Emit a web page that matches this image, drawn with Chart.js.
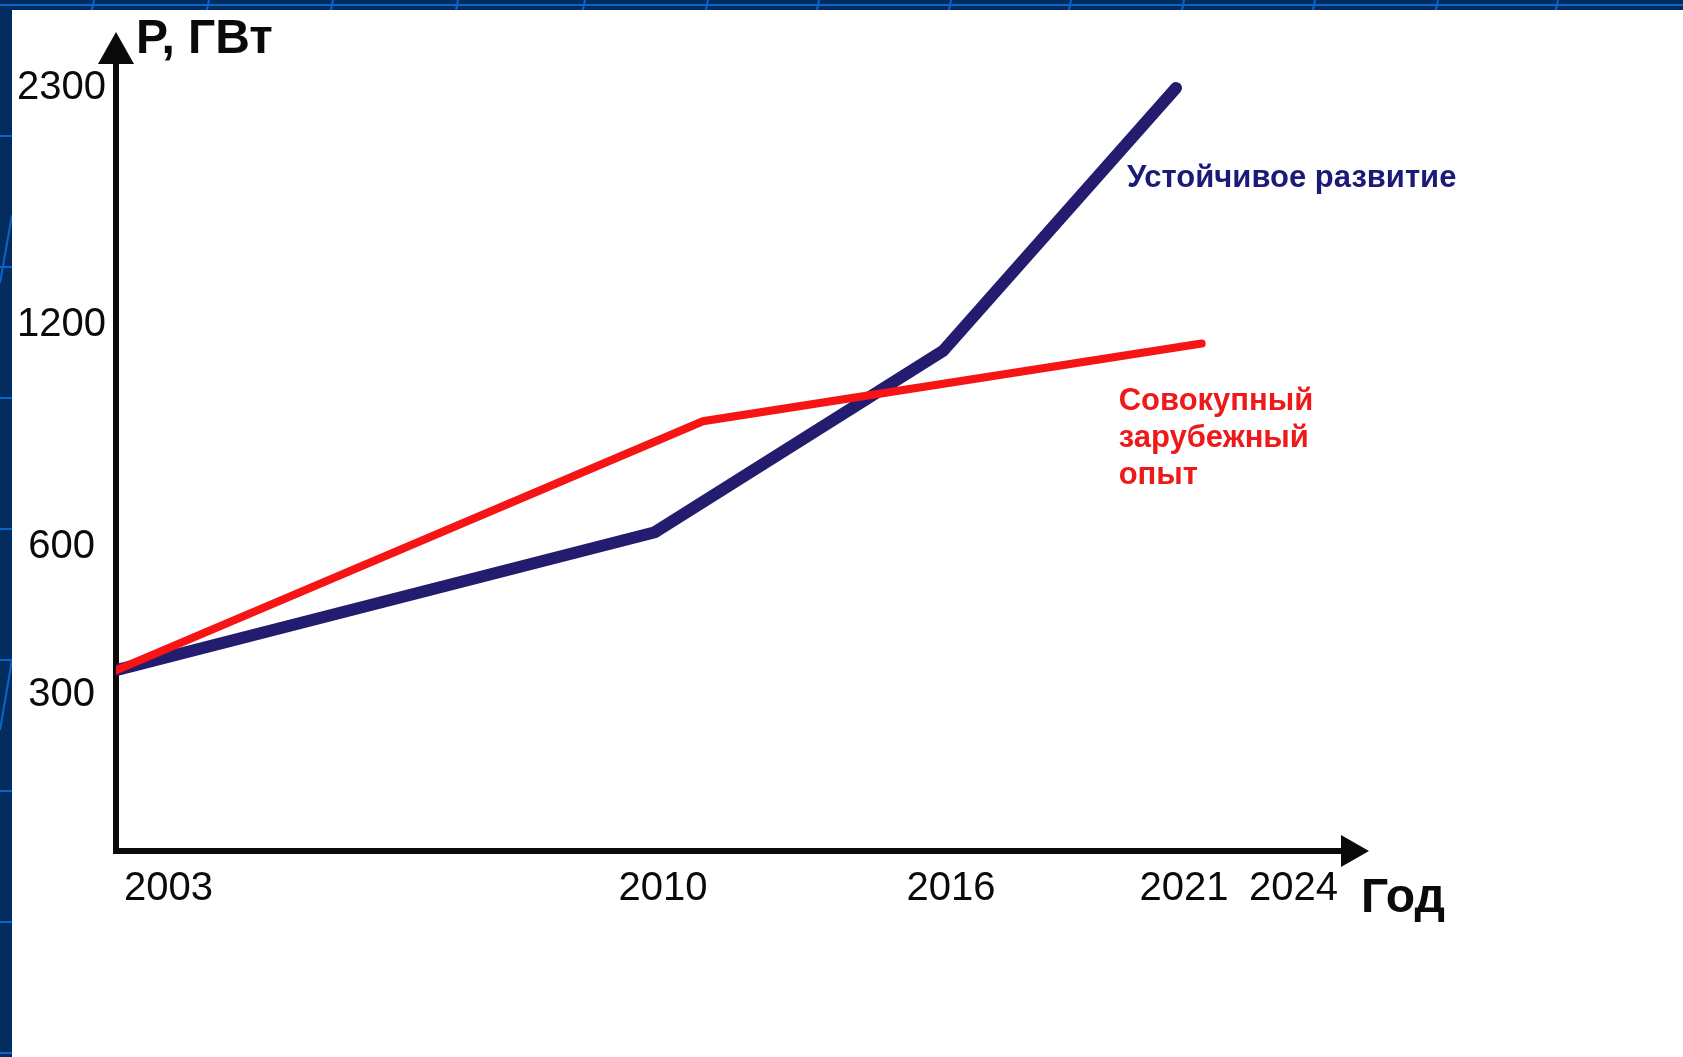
<!DOCTYPE html>
<html>
<head>
<meta charset="utf-8">
<script src="https://cdn.jsdelivr.net/npm/chart.js"></script>
<style>
html,body{margin:0;padding:0;background:#012c5c;overflow:hidden}
canvas{display:block}
</style>
</head>
<body>
<canvas id="c" width="1683" height="1057"></canvas>
<script>
// ---------------- data ----------------
const yearTicks = [2003, 2010, 2016, 2021, 2024];
const powerTicks = [300, 600, 1200, 2300];

const sustainableYears = [2003, 2010, 2016, 2021];
const sustainableGW    = [350, 640, 1130, 2300];

const foreignYears = [2003, 2011, 2021.5];
const foreignGW    = [350, 940, 1150];

const sustainableLabel = 'Устойчивое развитие';
const foreignLabel = ['Совокупный', 'зарубежный', 'опыт'];
const yAxisTitle = 'Р, ГВт';
const xAxisTitle = 'Год';

// -------- hand-drawn (non-uniform) axis layout: value -> fraction of axis --------
const AXIS_LAYOUT = {
  x: { ticks: yearTicks, stops: [[2003, 0], [2010, 0.4396], [2016, 0.6746], [2021, 0.8646], [2024, 0.9902], [2025, 1]] },
  y: { ticks: powerTicks, stops: [[0, 0], [300, 0.198], [600, 0.3858], [1200, 0.6675], [2300, 0.9683], [2400, 1]] }
};

function seg(stops, v, vi, fi) {
  for (let i = 1; i < stops.length; i++) {
    const a = stops[i - 1], b = stops[i];
    if (v <= b[vi] || i === stops.length - 1) {
      return a[fi] + (v - a[vi]) * (b[fi] - a[fi]) / (b[vi] - a[vi]);
    }
  }
}

class PiecewiseScale extends Chart.LinearScale {
  buildTicks() {
    return AXIS_LAYOUT[this.id].ticks.map(v => ({ value: v }));
  }
  getPixelForValue(value) {
    return this.getPixelForDecimal(seg(AXIS_LAYOUT[this.id].stops, value, 0, 1));
  }
  getValueForPixel(pixel) {
    return seg(AXIS_LAYOUT[this.id].stops, this.getDecimalForPixel(pixel), 1, 0);
  }
}
PiecewiseScale.id = 'piecewise';
PiecewiseScale.defaults = {};
Chart.register(PiecewiseScale);

// ---------------- slide background ----------------
const slideBg = {
  id: 'slideBg',
  beforeDraw(chart) {
    const ctx = chart.ctx, W = chart.width, H = chart.height;
    ctx.save();
    ctx.fillStyle = '#022d5e';
    ctx.fillRect(0, 0, W, H);
    ctx.strokeStyle = '#0c63cc';
    ctx.lineWidth = 2;
    ctx.beginPath();
    ctx.moveTo(0, 5); ctx.lineTo(W, 5);
    [94, 209, 333, 458, 585, 708, 819, 951, 1071, 1184, 1315, 1438, 1558].forEach(x => {
      ctx.moveTo(x, 0); ctx.lineTo(x - 2, 10);
    });
    for (let y = 136; y < H; y += 131) { ctx.moveTo(0, y); ctx.lineTo(12, y); }
    ctx.moveTo(0, 283); ctx.lineTo(12, 215);
    ctx.moveTo(0, 730); ctx.lineTo(12, 660);
    ctx.stroke();
    ctx.fillStyle = '#ffffff';
    ctx.fillRect(12, 10, W - 12, H - 10);
    ctx.restore();
  }
};

// ---------------- arrows + texts ----------------
const annotations = {
  id: 'annotations',
  afterDraw(chart) {
    const ctx = chart.ctx, a = chart.chartArea;
    const xs = chart.scales.x, ys = chart.scales.y;
    ctx.save();
    ctx.fillStyle = '#0a0a0a';
    // y arrow head
    ctx.beginPath();
    ctx.moveTo(a.left - 18, a.top + 1);
    ctx.lineTo(a.left + 18, a.top + 1);
    ctx.lineTo(a.left, a.top - 31);
    ctx.closePath(); ctx.fill();
    // x arrow head
    ctx.beginPath();
    ctx.moveTo(a.right - 1, a.bottom - 16);
    ctx.lineTo(a.right - 1, a.bottom + 16);
    ctx.lineTo(a.right + 27, a.bottom);
    ctx.closePath(); ctx.fill();

    ctx.textBaseline = 'alphabetic';
    ctx.textAlign = 'left';
    ctx.fillStyle = '#0a0a0a';
    ctx.font = 'bold 48px "Liberation Sans"';
    ctx.fillText(yAxisTitle, a.left + 20, a.top - 10);
    ctx.font = 'bold 48px "Liberation Sans"';
    ctx.fillText(xAxisTitle, a.right + 19, a.bottom + 61);

    // series labels, anchored to series end points
    const bi = sustainableYears.length - 1;
    const bx = xs.getPixelForValue(sustainableYears[bi]);
    const by = ys.getPixelForValue(sustainableGW[bi]);
    ctx.font = 'bold 31px "Liberation Sans"';
    ctx.fillStyle = '#1b1a78';
    ctx.fillText(sustainableLabel, bx - 49, by + 99);

    const ri = foreignYears.length - 1;
    const rx = xs.getPixelForValue(foreignYears[ri]);
    const ry = ys.getPixelForValue(foreignGW[ri]);
    ctx.fillStyle = '#ee1a1a';
    foreignLabel.forEach((t, i) => ctx.fillText(t, rx - 83, ry + 66 + i * 37));
    ctx.restore();
  }
};

const tickFont = { family: 'Liberation Sans', size: 40 };

new Chart(document.getElementById('c'), {
  type: 'line',
  data: {
    datasets: [
      {
        label: foreignLabel.join(' '),
        data: foreignYears.map((x, i) => ({ x, y: foreignGW[i] })),
        borderColor: '#f61414',
        borderWidth: 8,
        borderCapStyle: 'round',
        pointRadius: 0,
        fill: false,
        tension: 0
      },
      {
        label: sustainableLabel,
        data: sustainableYears.map((x, i) => ({ x, y: sustainableGW[i] })),
        borderColor: '#241c6f',
        borderWidth: 12,
        borderCapStyle: 'round',
        pointRadius: 0,
        fill: false,
        tension: 0
      }
    ]
  },
  options: {
    responsive: false,
    animation: false,
    events: [],
    layout: { padding: { left: 16, top: 63, right: 341, bottom: 106 } },
    plugins: { legend: { display: false }, tooltip: { enabled: false }, title: { display: false } },
    scales: {
      x: {
        type: 'piecewise',
        min: 2003, max: 2025,
        afterFit: s => { s.height = 100; },
        grid: { display: false, drawTicks: false, tickLength: 0 },
        border: { display: true, color: '#0a0a0a', width: 6 },
        ticks: {
          autoSkip: false, maxRotation: 0, minRotation: 0,
          align: 'inner', labelOffset: 8, padding: 14,
          color: '#0a0a0a', font: tickFont,
          callback: v => String(v)
        }
      },
      y: {
        type: 'piecewise',
        min: 0, max: 2400,
        afterFit: s => { s.width = 100; },
        grid: { display: false, drawTicks: false, tickLength: 0 },
        border: { display: true, color: '#0a0a0a', width: 6 },
        ticks: {
          autoSkip: false, crossAlign: 'center', padding: 10,
          color: '#0a0a0a', font: tickFont,
          callback: v => String(v)
        }
      }
    }
  },
  plugins: [slideBg, annotations]
});
</script>
</body>
</html>
